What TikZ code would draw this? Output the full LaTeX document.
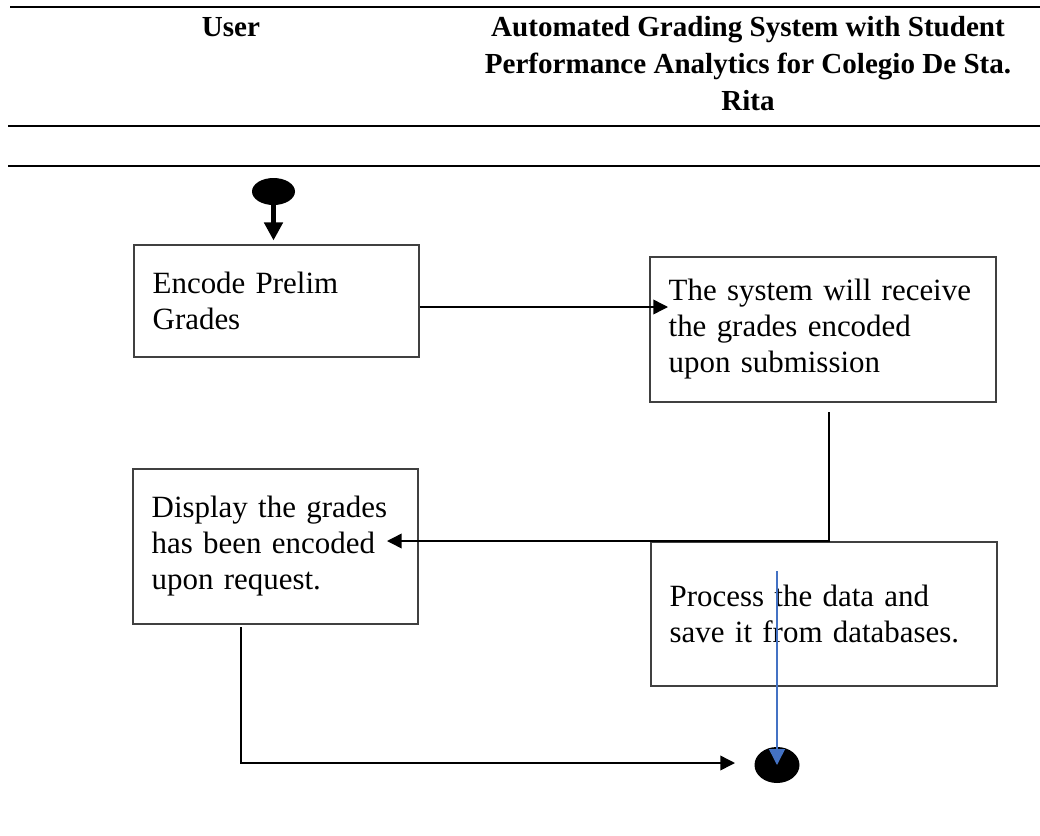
\documentclass[tikz,border=0pt]{standalone}
\usepackage{fontspec}
\setmainfont{Liberation Serif}
\usetikzlibrary{shapes.geometric,arrows.meta,positioning,calc}

\definecolor{lineblue}{RGB}{68,114,196}

\tikzset{
  actbox/.style={draw=black!75, line width=0.8pt, align=left, inner xsep=14pt, font=\fontsize{23.2}{27}\selectfont},
  headtext/.style={font=\fontsize{21.8}{28}\selectfont\bfseries, inner sep=0pt},
  flow/.style={-{Triangle[length=11pt,width=11pt]}, line width=1.1pt},
  dot/.style={ellipse, fill=black, inner sep=0pt},
  rule/.style={line width=2pt},
}

\begin{document}
\begin{tikzpicture}[x=0.75pt,y=-0.75pt]
\useasboundingbox (0,0) rectangle (1040,836);

% header of the swimlanes
\draw[rule] (10,7) -- (1040,7);
\draw[rule] (8,126) -- (1040,126);
\draw[rule] (8,166) -- (1040,166);
\node[headtext, anchor=base] (user) at (231,36) {User};
\node[headtext, align=center] (system) at (748,63.5) {Automated Grading System with Student\\Performance Analytics for Colegio De Sta.\\Rita};

% activities
\node[dot, minimum width=32.25pt, minimum height=20.25pt] (start) at (273.5,191.5) {};
\node[actbox, text width=185.75pt, minimum height=84pt] (encode) at (276.5,301) {Encode Prelim\\Grades};
\node[actbox, text width=231.5pt, minimum height=108.75pt] (receive) at (823,329.5) {The system will receive\\the grades encoded\\upon submission};
\node[actbox, text width=185.75pt, minimum height=116.25pt] (display) at (275.5,546.5) {Display the grades\\has been encoded\\upon request.};
\node[actbox, text width=231.5pt, minimum height=108pt] (process) at (824,614) {Process the data and\\save it from databases.};
\node[dot, minimum width=33.75pt, minimum height=27pt] (finish) at (777,765) {};

% connectors
\coordinate (recvIn) at (668,307);
\coordinate (recvOut) at (829,412);
\coordinate (dispIn) at (387,541);
\coordinate (dispOut) at (241,627);
\coordinate (finishIn) at (735,763);
\coordinate (procOut) at (777,571);

\draw[line width=3.5pt, -{Triangle[length=13.5pt,width=13.5pt]}, shorten >=3pt] (start.south) -- (start.south |- encode.north);
\draw[flow] (encode.east |- recvIn) -- (recvIn);
\draw[flow] (recvOut) |- (dispIn);
\draw[flow] (dispOut) |- (finishIn);
\draw[flow, lineblue, -{Triangle[length=12pt,width=12pt]}] (procOut) -- (finish.center);
\end{tikzpicture}
\end{document}
